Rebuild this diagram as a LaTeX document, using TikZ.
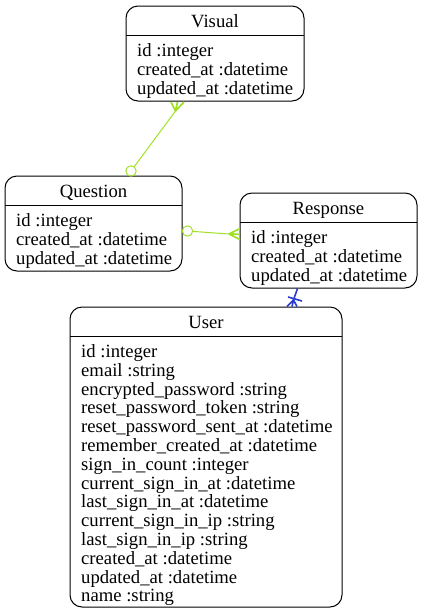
\documentclass[tikz,border=0pt]{standalone}
\usepackage{fontspec}
\setmainfont{Liberation Serif}
\usetikzlibrary{calc}
\begin{document}
\begin{tikzpicture}[x=1pt,y=-1pt,
  entbox/.style={draw=black,line width=1pt,rounded corners=12pt},
  divline/.style={draw=black,line width=1pt},
  ttl/.style={anchor=base,inner sep=0pt,font=\fontsize{18.67}{18.8}\selectfont},
  attr/.style={anchor=base west,inner sep=0pt,font=\fontsize{18.67}{18.8}\selectfont},
  relg/.style={draw={rgb,255:red,160;green,225;blue,40},line width=1pt},
  crowg/.style={draw={rgb,255:red,160;green,225;blue,40},line width=1.7pt},
  relb/.style={draw={rgb,255:red,40;green,60;blue,210},line width=1.6pt}]
\useasboundingbox (0,0) rectangle (423,614);
% ---- Visual
\draw[entbox] (126,6) rectangle (304,101);
\draw[divline] (126,35.5) -- (304,35.5);
\node[ttl] (vt) at (215,27) {Visual};
\node[attr] (v1) at (137,56.5) {id :integer};
\node[attr] (v2) at (137,75.3) {created\_at :datetime};
\node[attr] (v3) at (137,94.1) {updated\_at :datetime};
% ---- Question
\draw[entbox] (5,176) rectangle (182,271);
\draw[divline] (5,205.5) -- (182,205.5);
\node[ttl] (qt) at (93.5,197) {Question};
\node[attr] (q1) at (16,226.5) {id :integer};
\node[attr] (q2) at (16,245.3) {created\_at :datetime};
\node[attr] (q3) at (16,264.1) {updated\_at :datetime};
% ---- Response
\draw[entbox] (240,193) rectangle (417,288);
\draw[divline] (240,222.5) -- (417,222.5);
\node[ttl] (rt) at (328.5,214) {Response};
\node[attr] (r1) at (251,243.5) {id :integer};
\node[attr] (r2) at (251,262.3) {created\_at :datetime};
\node[attr] (r3) at (251,281.1) {updated\_at :datetime};
% ---- User
\draw[entbox] (70,307) rectangle (342,607);
\draw[divline] (70,336.5) -- (342,336.5);
\node[ttl] (ut) at (206,328) {User};
\foreach \t [count=\i from 0] in {id :integer,email :string,encrypted\_password :string,reset\_password\_token :string,reset\_password\_sent\_at :datetime,remember\_created\_at :datetime,sign\_in\_count :integer,current\_sign\_in\_at :datetime,last\_sign\_in\_at :datetime,current\_sign\_in\_ip :string,last\_sign\_in\_ip :string,created\_at :datetime,updated\_at :datetime,name :string}
  \node[attr] (u\i) at (81,357.5+18.8*\i) {\t};
% ---- Visual -- Question (green)
\coordinate (vq0) at (131,171);
\coordinate (vq1) at (175.5,111);
\coordinate (vqa) at (171,102);
\coordinate (vqb) at (177.5,102);
\coordinate (vqc) at (184,102);
\draw[relg] (vq0) circle (5.2);
\draw[relg] ($(vq0)!5.2pt!(vq1)$) -- (vq1);
\draw[crowg] (vq1) -- (vqa) (vq1) -- (vqb) (vq1) -- (vqc);
% ---- Question -- Response (green)
\coordinate (qr0) at (187.5,231);
\coordinate (qr1) at (229,234);
\coordinate (qra) at (240,228.5);
\coordinate (qrb) at (240,234.2);
\coordinate (qrc) at (240,239.5);
\draw[relg] (qr0) circle (5.2);
\draw[relg] ($(qr0)!5.2pt!(qr1)$) -- (qr1);
\draw[crowg] (qr1) -- (qra) (qr1) -- (qrb) (qr1) -- (qrc);
% ---- Response -- User (blue)
\coordinate (ru0) at (297.5,288.5);
\coordinate (ru1) at (293.5,300);
\coordinate (rua) at (287,306.5);
\coordinate (rub) at (292,306.5);
\coordinate (ruc) at (297,306.5);
\coordinate (rux1) at (288,297);
\coordinate (rux2) at (302,301);
\draw[relb] (ru0) -- (ru1);
\draw[relb] (ru1) -- (rua) (ru1) -- (rub) (ru1) -- (ruc);
\draw[relb] (rux1) -- (rux2);
\end{tikzpicture}
\end{document}
